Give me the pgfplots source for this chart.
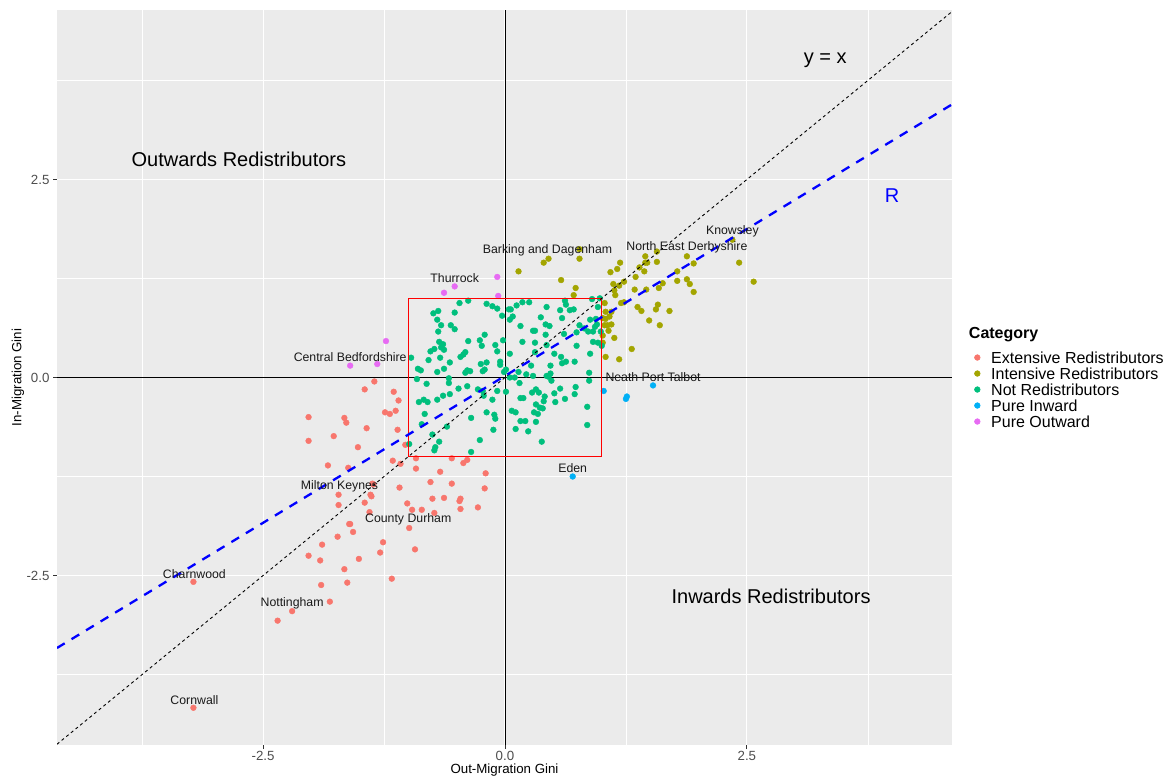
\documentclass[border=0pt]{standalone}
\usepackage{pgfplots}
\pgfplotsset{compat=1.18}
\usepackage{fontspec}
\setmainfont{Liberation Sans}
\definecolor{cExt}{HTML}{F8766D}
\definecolor{cInt}{HTML}{A3A500}
\definecolor{cNot}{HTML}{00BF7D}
\definecolor{cIn}{HTML}{00B0F6}
\definecolor{cOut}{HTML}{E76BF3}
\definecolor{panel}{HTML}{EBEBEB}
\definecolor{tickc}{HTML}{4D4D4D}
\definecolor{tickm}{HTML}{333333}
\begin{document}
\begin{tikzpicture}
\useasboundingbox (0,0) rectangle (1166pt,777pt);
\begin{axis}[
  at={(57pt,32pt)}, anchor=south west,
  scale only axis, width=895pt, height=735pt,
  xmin=-4.63, xmax=4.62, ymin=-4.64, ymax=4.64,
  clip mode=individual,
  axis background/.style={fill=panel},
  axis line style={draw=none},
  xtick={-2.5,0,2.5}, xticklabels={-2.5,0.0,2.5},
  ytick={-2.5,0,2.5}, yticklabels={-2.5,0.0,2.5},
  minor xtick={-3.75,-1.25,1.25,3.75},
  minor ytick={-3.75,-1.25,1.25,3.75},
  xtick pos=bottom, ytick pos=left,
  grid=both,
  major grid style={white, line width=1.1pt},
  minor grid style={white, line width=0.55pt},
  tick align=outside,
  major tick length=4pt, minor tick length=0pt,
  tick style={tickm, line width=0.8pt},
  ticklabel style={font=\fontsize{13.3}{14}\selectfont, text=tickc},
  xticklabel style={yshift=1.5pt},
  xlabel={Out-Migration Gini}, ylabel={In-Migration Gini},
  label style={font=\fontsize{13.3}{14}\selectfont},
  xlabel style={at={(axis description cs:0.5,-0.0345)}, anchor=center},
  ylabel style={at={(axis description cs:-0.0436,0.5)}, anchor=center},
  legend cell align=left,
  legend style={at={(axis description cs:1.0215,0.539)}, anchor=north west,
    draw=none, fill=none, font=\fontsize{16}{16}\selectfont,
    nodes={inner sep=0pt, text height=12pt, text depth=4pt},
    row sep=0pt, /tikz/every odd column/.append style={column sep=11pt}},
  legend image code/.code={\draw[#1] plot coordinates {(4pt,1.5pt)};},
]
% zero lines
\addplot[black, line width=0.8pt, forget plot] coordinates {(-4.63,0) (4.62,0)};
\addplot[black, line width=0.8pt, forget plot] coordinates {(0,-4.64) (0,4.64)};

% Extensive Redistributors
\addplot[only marks, mark=*, mark size=2.9pt, color=cExt] coordinates {
(-1.03,-0.85) (-0.55,-1.02) (-0.43,-1.08) (-0.39,-1.04) (-0.92,-1.15) (-0.67,-1.19)
(-0.20,-1.21) (-0.77,-1.32) (-0.55,-1.34) (-0.21,-1.40) (-0.75,-1.53) (-0.63,-1.52)
(-0.46,-1.53) (-0.47,-1.56) (-1.01,-1.59) (-0.96,-1.67) (-0.86,-1.67) (-0.46,-1.66)
(-0.28,-1.64) (-0.73,-1.71) (-1.35,-0.05) (-1.45,-0.15) (-1.15,-0.18) (-1.10,-0.29)
(-1.24,-0.44) (-1.19,-0.46) (-1.13,-0.42) (-2.03,-0.50) (-1.66,-0.51) (-1.64,-0.57)
(-1.43,-0.64) (-1.11,-0.66) (-2.03,-0.80) (-1.77,-0.74) (-1.52,-0.88) (-1.16,-1.05)
(-1.83,-1.11) (-1.62,-1.14) (-1.08,-1.09) (-1.36,-1.35) (-1.09,-1.39) (-0.92,-1.02)
(-1.72,-1.48) (-1.39,-1.48) (-1.38,-1.50) (-1.37,-1.34) (-1.72,-1.61) (-1.45,-1.58)
(-1.40,-1.70) (-1.61,-1.85) (-1.60,-1.85) (-1.57,-1.95) (-1.73,-2.01) (-1.89,-2.11)
(-2.03,-2.25) (-1.91,-2.31) (-1.51,-2.29) (-1.29,-2.21) (-1.26,-2.08) (-0.99,-1.90)
(-0.93,-2.17) (-1.66,-2.42) (-1.63,-2.59) (-1.90,-2.62) (-1.17,-2.54) (-1.81,-2.83)
(-2.20,-2.95) (-2.35,-3.07) (-3.22,-2.58) (-3.22,-4.17)
};
\addlegendentry{Extensive Redistributors}

% Intensive Redistributors
\addplot[only marks, mark=*, mark size=2.9pt, color=cInt] coordinates {
(0.14,1.34) (0.40,1.45) (0.45,1.50) (0.77,1.62) (0.77,1.50) (0.58,1.23) (0.73,1.13)
(0.71,1.04) (1.09,1.33) (1.16,1.37) (1.19,1.45) (1.12,1.18) (1.18,1.16) (1.23,1.21)
(1.13,1.10) (1.14,1.04) (1.20,0.94) (1.23,0.95) (1.03,0.94) (1.04,0.83) (1.08,0.77)
(1.10,0.83) (1.04,0.74) (1.03,0.66) (1.06,0.66) (1.10,0.67) (1.07,0.59) (1.13,0.50)
(1.01,0.44) (1.18,0.23) (1.04,0.26) (1.31,0.36) (1.35,1.27) (1.34,1.11) (1.37,0.89)
(1.41,0.84) (1.49,0.72) (1.60,0.66) (1.56,0.86) (1.58,0.92) (1.70,0.84) (1.46,1.11)
(1.59,1.13) (1.63,1.19) (1.39,1.39) (1.44,1.34) (1.45,1.45) (1.47,1.45) (1.45,1.53)
(1.57,1.46) (1.57,1.59) (1.78,1.22) (1.88,1.24) (1.91,1.18) (1.95,1.08) (1.78,1.34)
(1.88,1.53) (1.95,1.44) (2.42,1.45) (2.57,1.21) (2.35,1.74) (1.01,0.75) (1.01,0.53)
};
\addlegendentry{Intensive Redistributors}

% Not Redistributors
\addplot[only marks, mark=*, mark size=2.9pt, color=cNot] coordinates {
(-0.47,0.94) (-0.38,0.97) (-0.19,0.93) (-0.13,0.90) (-0.08,0.87) (-0.03,0.78) (-0.69,0.84)
(-0.74,0.81) (-0.52,0.82) (-0.70,0.73) (-0.66,0.66) (-0.56,0.66) (-0.52,0.61) (-0.69,0.58)
(-0.21,0.54) (-0.26,0.47) (-0.38,0.46) (-0.24,0.40) (-0.10,0.41) (-0.02,0.47) (-0.08,0.33)
(-0.68,0.45) (-0.64,0.42) (-0.66,0.38) (-0.63,0.35) (-0.73,0.36) (-0.77,0.33) (-0.41,0.32)
(-0.43,0.29) (-0.46,0.26) (-0.67,0.25) (-0.79,0.22) (-0.97,0.25) (-0.57,0.19) (-0.25,0.17)
(-0.19,0.19) (-0.05,0.20) (-0.05,0.16) (-0.90,0.11) (-0.87,0.09) (-0.63,0.11) (-0.70,0.07)
(-0.41,0.06) (-0.39,0.09) (-0.36,0.08) (-0.23,0.08) (-0.21,0.10) (-0.01,0.07) (-0.91,-0.02)
(-0.58,-0.01) (0.01,0.10)
(0.06,0.86) (0.04,0.86) (0.12,0.91) (0.18,0.95) (0.25,0.95) (0.43,0.89) (0.62,0.97)
(0.63,0.92) (0.67,0.85) (0.71,0.86) (0.57,0.85) (0.90,0.99) (0.98,1.00) (0.96,0.89)
(0.08,0.77) (0.05,0.73) (0.37,0.76) (0.59,0.75) (0.16,0.65) (0.42,0.67) (0.46,0.65)
(0.77,0.66) (0.82,0.62) (0.86,0.58) (0.91,0.58) (0.95,0.67) (0.29,0.59) (0.31,0.59)
(0.42,0.54) (0.61,0.55) (0.74,0.57) (0.18,0.45) (0.31,0.44) (0.74,0.40) (0.43,0.41)
(0.05,0.30) (0.31,0.32) (0.51,0.30) (0.58,0.26) (0.59,0.18) (0.63,0.20) (0.72,0.20)
(0.88,0.30) (0.27,0.15) (0.47,0.15) (0.14,0.07) (0.47,0.05) (0.87,0.06) (0.99,0.58)
(0.88,0.73) (0.94,0.74) (0.93,0.64) (0.91,0.45) (0.96,0.44) (1.00,0.40)
(-0.81,-0.08) (-0.58,-0.07) (-0.48,-0.14) (-0.39,-0.11) (-0.28,-0.15) (-0.23,-0.17)
(-0.89,-0.31) (-0.84,-0.28) (-0.80,-0.31) (-0.70,-0.28) (-0.64,-0.23) (-0.57,-0.21)
(-0.22,-0.23) (-0.13,-0.28) (-0.08,-0.17) (-0.83,-0.46) (-0.86,-0.59) (-0.60,-0.62)
(-0.35,-0.51) (-0.19,-0.44) (-0.11,-0.47) (-0.10,-0.52) (-0.12,-0.66) (-0.26,-0.79)
(-0.72,-0.88) (-0.73,-0.92) (-0.35,-0.94) (-0.99,-0.84) (-0.75,-0.72) (-0.68,-0.81)
(0.05,0.00) (0.10,0.00) (0.15,-0.07) (0.22,0.04) (0.29,0.02) (0.43,0.02) (0.45,0.01)
(0.48,-0.04)
(0.01,-0.18) (0.16,-0.26) (0.19,-0.26) (0.28,-0.19) (0.32,-0.15) (0.35,-0.19) (0.41,-0.24)
(0.40,-0.30) (0.51,-0.20) (0.57,-0.14) (0.52,-0.31) (0.62,-0.27) (0.72,-0.21) (0.73,-0.12)
(0.87,-0.04) (0.32,-0.34) (0.36,-0.38) (0.39,-0.39) (0.07,-0.42) (0.11,-0.44) (0.30,-0.44)
(0.34,-0.46) (0.16,-0.55) (0.21,-0.55) (0.32,-0.56) (0.11,-0.65) (0.24,-0.68) (0.85,-0.37)
(0.85,-0.60) (0.38,-0.81)
};
\addlegendentry{Not Redistributors}

% Pure Inward
\addplot[only marks, mark=*, mark size=2.9pt, color=cIn] coordinates {
(1.02,-0.17) (1.26,-0.24) (1.25,-0.27) (1.53,-0.10) (0.70,-1.25)
};
\addlegendentry{Pure Inward}

% Pure Outward
\addplot[only marks, mark=*, mark size=2.9pt, color=cOut] coordinates {
(-0.08,1.27) (-0.52,1.15) (-0.63,1.07) (-0.07,1.03) (-1.60,0.15) (-1.32,0.17) (-1.23,0.46)
};
\addlegendentry{Pure Outward}

% red box
\addplot[red, line width=1.1pt, forget plot] coordinates {(-1,-1) (1,-1) (1,1) (-1,1) (-1,-1)};
% y = x
\addplot[black, line width=0.9pt, dash pattern=on 3pt off 3pt, forget plot] coordinates {(-4.63,-4.63) (4.62,4.62)};
% R line
\addplot[blue, line width=2.3pt, dash pattern=on 9pt off 8pt, forget plot] coordinates {(-4.63,-3.415) (4.62,3.448)};

% point labels
\begin{scope}[every node/.style={font=\fontsize{12.3}{13}\selectfont, text=black!90}]
\node at (axis cs:2.35,1.85) {Knowsley};
\node at (axis cs:1.88,1.64) {North East Derbyshire};
\node at (axis cs:0.44,1.61) {Barking and Dagenham};
\node at (axis cs:-0.52,1.26) {Thurrock};
\node at (axis cs:-1.60,0.26) {Central Bedfordshire};
\node at (axis cs:1.53,0.01) {Neath Port Talbot};
\node at (axis cs:0.70,-1.14) {Eden};
\node at (axis cs:-1.71,-1.38) {Milton Keynes};
\node at (axis cs:-1.00,-1.79) {County Durham};
\node at (axis cs:-3.21,-2.48) {Charnwood};
\node at (axis cs:-2.20,-2.85) {Nottingham};
\node at (axis cs:-3.21,-4.07) {Cornwall};
\end{scope}
\begin{scope}[every node/.style={font=\fontsize{20}{22}\selectfont}]
\node at (axis cs:3.31,4.01) {y = x};
\node[text=blue] at (axis cs:4.00,2.30) {R};
\node at (axis cs:-2.75,2.76) {Outwards Redistributors};
\node at (axis cs:2.75,-2.76) {Inwards Redistributors};
\end{scope}
\node[anchor=west, font=\fontsize{16}{16}\selectfont\bfseries] at (rel axis cs:1.015,0.558) {Category};
\end{axis}
\end{tikzpicture}
\end{document}
